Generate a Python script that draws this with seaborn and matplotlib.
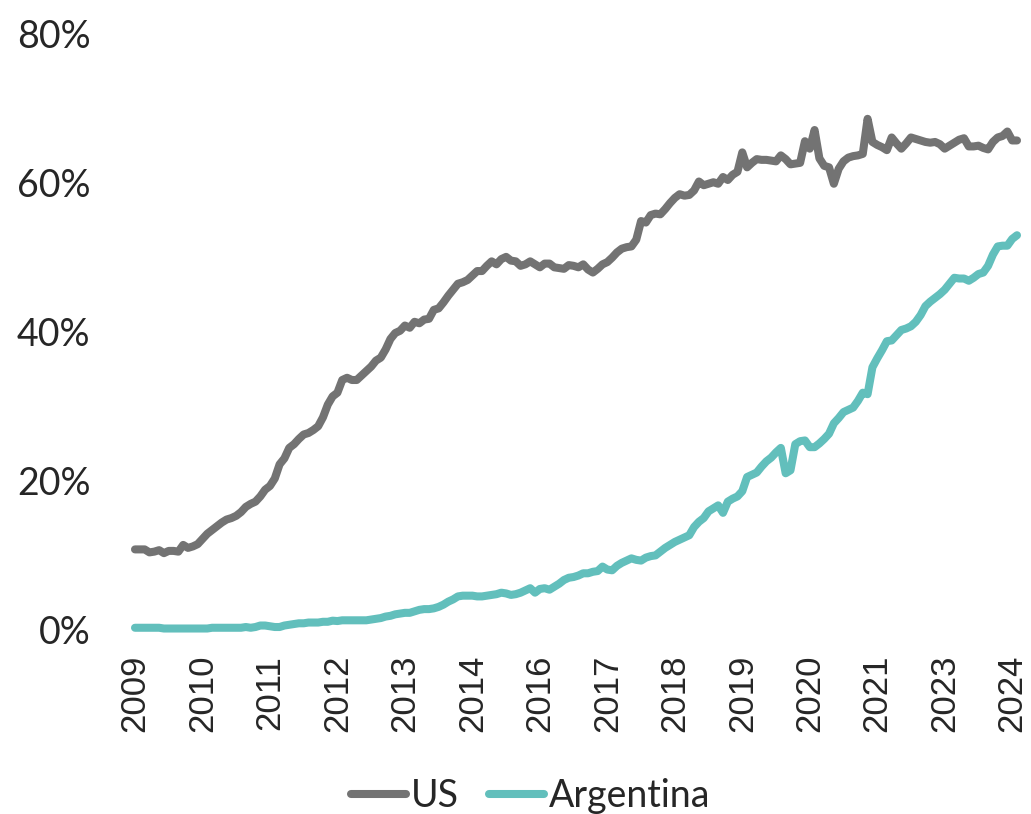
import pandas as pd
import matplotlib.pyplot as plt
import seaborn as sns

# monthly share (%), Jan 2009 - Apr 2024
us = [10.8, 10.8, 10.8, 10.4, 10.5, 10.7, 10.3, 10.6, 10.6, 10.5,
      11.4, 11.0, 11.2, 11.5, 12.2, 12.9, 13.4, 13.9, 14.4, 14.8,
      15.0, 15.3, 15.8, 16.5, 16.9, 17.2, 17.9, 18.8, 19.3, 20.3,
      22.2, 23.0, 24.4, 24.9, 25.6, 26.2, 26.4, 26.8, 27.3, 28.5,
      30.2, 31.3, 31.8, 33.5, 33.8, 33.5, 33.5, 34.1, 34.7, 35.3,
      36.1, 36.5, 37.6, 39.0, 39.8, 40.1, 40.8, 40.5, 41.3, 41.1,
      41.6, 41.7, 42.9, 43.1, 43.9, 44.8, 45.6, 46.4, 46.6, 46.9,
      47.5, 48.1, 48.1, 48.8, 49.4, 49.0, 49.7, 50.0, 49.5, 49.4,
      48.8, 49.0, 49.4, 49.0, 48.6, 49.1, 49.1, 48.6, 48.5, 48.4,
      48.9, 48.8, 48.6, 49.0, 48.3, 47.9, 48.4, 49.0, 49.3, 49.9,
      50.6, 51.1, 51.3, 51.4, 52.3, 54.8, 54.6, 55.6, 55.8, 55.7,
      56.4, 57.2, 57.9, 58.4, 58.2, 58.3, 58.9, 60.1, 59.6, 59.8,
      60.0, 59.8, 60.7, 60.3, 61.0, 61.4, 64.0, 62.0, 62.6, 63.1,
      63.0, 63.0, 62.9, 62.8, 63.6, 63.1, 62.4, 62.5, 62.6, 65.5,
      64.5, 67.0, 63.2, 62.2, 62.0, 59.8, 61.8, 62.8, 63.3, 63.5,
      63.6, 63.8, 68.5, 65.4, 65.0, 64.7, 64.3, 66.0, 65.2, 64.5,
      65.2, 66.0, 65.8, 65.6, 65.4, 65.3, 65.4, 65.1, 64.5, 64.9,
      65.3, 65.7, 65.9, 64.8, 64.8, 64.9, 64.6, 64.4, 65.4, 66.0,
      66.2, 66.8, 65.6, 65.6]
argentina = [0.3, 0.3, 0.3, 0.3, 0.3, 0.3, 0.2, 0.2, 0.2, 0.2,
             0.2, 0.2, 0.2, 0.2, 0.2, 0.2, 0.3, 0.3, 0.3, 0.3,
             0.3, 0.3, 0.3, 0.4, 0.3, 0.4, 0.6, 0.6, 0.5, 0.4,
             0.4, 0.6, 0.7, 0.8, 0.9, 0.9, 1.0, 1.0, 1.0, 1.1,
             1.1, 1.25, 1.2, 1.3, 1.3, 1.3, 1.3, 1.3, 1.3, 1.4,
             1.5, 1.6, 1.8, 1.9, 2.1, 2.2, 2.3, 2.3, 2.5, 2.7,
             2.8, 2.8, 2.9, 3.1, 3.4, 3.8, 4.1, 4.5, 4.6, 4.6,
             4.6, 4.5, 4.5, 4.6, 4.7, 4.8, 5.0, 4.9, 4.7, 4.8,
             5.0, 5.3, 5.6, 5.0, 5.5, 5.6, 5.4, 5.8, 6.2, 6.7,
             7.0, 7.1, 7.3, 7.6, 7.6, 7.8, 7.9, 8.5, 8.1, 8.0,
             8.6, 9.0, 9.3, 9.6, 9.4, 9.3, 9.7, 9.9, 10.0, 10.5,
             11.0, 11.4, 11.8, 12.1, 12.4, 12.7, 13.8, 14.5, 15.0, 15.9,
             16.3, 16.7, 15.7, 17.2, 17.6, 17.9, 18.6, 20.5, 20.8, 21.1,
             21.9, 22.6, 23.1, 23.8, 24.4, 21.0, 21.4, 24.9, 25.3, 25.4,
             24.5, 24.5, 25.0, 25.6, 26.3, 27.7, 28.4, 29.2, 29.5, 29.8,
             30.7, 31.8, 31.6, 35.2, 36.4, 37.5, 38.7, 38.8, 39.5, 40.2,
             40.4, 40.7, 41.3, 42.2, 43.4, 44.0, 44.5, 45.0, 45.6, 46.4,
             47.2, 47.1, 47.1, 46.8, 47.2, 47.7, 47.9, 48.8, 50.3, 51.4,
             51.5, 51.5, 52.4, 52.9]

# category axis labelled every 14 months
tick_years = ['2009', '2010', '2011', '2012', '2013', '2014', '2016',
              '2017', '2018', '2019', '2020', '2021', '2023', '2024']
y_ticks = [0, 20, 40, 60, 80]

df = pd.DataFrame({'month': range(len(us)), 'US': us, 'Argentina': argentina})
long = df.melt(id_vars='month', var_name='series', value_name='share')

sns.set_style('white')
plt.rcParams['font.family'] = ['Lato', 'DejaVu Sans']
plt.rcParams['lines.solid_capstyle'] = 'round'

fig = plt.figure(figsize=(10.31, 8.14), dpi=100)
ax = fig.add_axes([135 / 1031, 184 / 814, 882 / 1031, 597 / 814])

sns.lineplot(data=long, x='month', y='share', hue='series',
             palette={'US': '#737373', 'Argentina': '#62bfbc'},
             linewidth=5.8, ax=ax, legend=False)
for ln in ax.lines:
    ln.set_clip_on(False)

ax.set_xlim(0, len(us) - 1)
ax.set_ylim(0, 80)
ax.set_xticks(range(0, len(us), 14))
ax.set_xticklabels(tick_years, rotation=90, family='Liberation Sans',
                   fontsize=25, color='#262626')
ax.set_yticks(y_ticks)
ax.set_yticklabels([f'{v}%' for v in y_ticks], fontsize=27, color='#262626')
ax.tick_params(axis='x', length=0, pad=18)
ax.tick_params(axis='y', length=0, pad=32)
ax.set_xlabel('')
ax.set_ylabel('')
for s in ax.spines.values():
    s.set_visible(False)

handles = [plt.Line2D([], [], color='#737373', lw=5.8),
           plt.Line2D([], [], color='#62bfbc', lw=5.8)]
fig.legend(handles, ['US', 'Argentina'], loc='center',
           bbox_to_anchor=(531 / 1031, 1 - 796 / 814), ncol=2, frameon=False,
           fontsize=27, handlelength=1.45, handletextpad=0.15,
           columnspacing=0.8, labelcolor='#262626')

fig.savefig('out.png', dpi=100)
